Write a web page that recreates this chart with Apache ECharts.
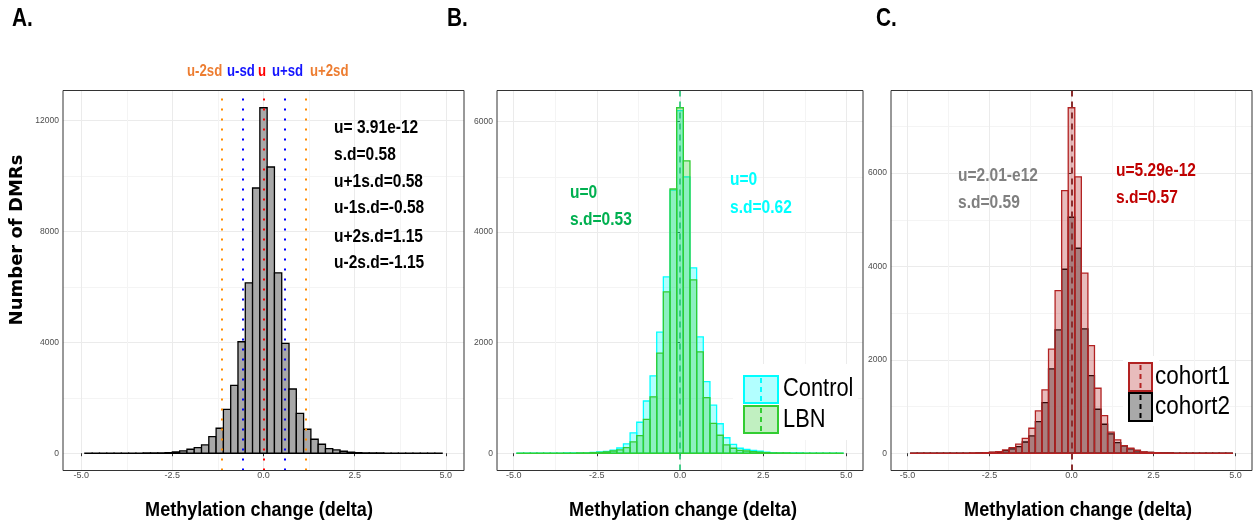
<!DOCTYPE html>
<html>
<head>
<meta charset="utf-8">
<script src="https://cdn.jsdelivr.net/npm/echarts@6/dist/echarts.min.js"></script>
<style>
  html, body { margin: 0; padding: 0; background: #fff; }
  #chart { width: 1253px; height: 529px; }
</style>
</head>
<body>
<div id="chart"></div>
<script>
// histogram bins, width 0.2, centred on these values
var binMid = [-4.8, -4.6, -4.4, -4.2, -4.0, -3.8, -3.6, -3.4, -3.2, -3.0, -2.8, -2.6,
              -2.4, -2.2, -2.0, -1.8, -1.6, -1.4, -1.2, -1.0, -0.8, -0.6, -0.4, -0.2,
              0,
              0.2, 0.4, 0.6, 0.8, 1.0, 1.2, 1.4, 1.6, 1.8, 2.0, 2.2, 2.4,
              2.6, 2.8, 3.0, 3.2, 3.4, 3.6, 3.8, 4.0, 4.2, 4.4, 4.6, 4.8];
var binWidth = 0.2;

// A. all DMRs
var countsA = [2, 2, 3, 3, 4, 5, 6, 7, 9, 11, 15, 24, 48, 84, 144, 204, 300, 600, 900, 1584, 2450, 4020, 6144, 9564,
               12456,
               10320, 6504, 3960, 2316, 1440, 864, 504, 324, 168, 120, 72, 36, 18, 13, 10, 8, 7, 6, 5, 4, 3, 3, 2, 2];
// B. Control vs LBN
var control = [1, 1, 2, 2, 2, 3, 3, 4, 5, 6, 8, 14, 22, 34, 55, 95, 170, 370, 560, 945, 1400, 2190, 3190, 4760,
               6200,
               5000, 3355, 2105, 1295, 870, 533, 280, 160, 90, 70, 50, 36, 20, 12, 8, 6, 5, 4, 3, 2, 2, 2, 1, 1];
var lbn = [1, 1, 1, 1, 2, 2, 2, 3, 3, 4, 6, 10, 16, 26, 40, 60, 100, 205, 320, 612, 1020, 1810, 2920, 4780,
           6250,
           5290, 3135, 1835, 1005, 540, 325, 150, 90, 50, 40, 28, 18, 10, 7, 5, 4, 3, 3, 2, 2, 1, 1, 1, 1];
// C. cohort1 vs cohort2
var cohort1 = [1, 1, 1, 2, 2, 2, 3, 3, 4, 5, 8, 15, 24, 35, 70, 121, 193, 320, 535, 907, 1357, 2228, 3484, 5626,
               7400,
               5920, 3856, 2306, 1392, 807, 450, 286, 164, 107, 64, 30, 20, 12, 8, 5, 4, 3, 3, 2, 2, 1, 1, 1, 1];
var cohort2 = [1, 1, 1, 1, 2, 2, 2, 3, 3, 4, 6, 12, 20, 30, 57, 93, 143, 240, 371, 678, 1085, 1806, 2642, 3941,
               5055,
               4391, 2663, 1664, 942, 621, 414, 228, 157, 93, 50, 25, 16, 10, 7, 5, 4, 3, 2, 2, 1, 1, 1, 1, 1];

// mean / sd reference lines in A
var sdLinesA = [-1.15, -0.58, 0, 0.58, 1.15];
var sdColorsA = ['#ff8c00', '#0000ff', '#ff0000', '#0000ff', '#ff8c00'];

// tick labels
var xTicks = [-5, -2.5, 0, 2.5, 5];
var yTicksA = [0, 4000, 8000, 12000];
var yTicksBC = [0, 2000, 4000, 6000];

var sans = "'Liberation Sans', Arial, sans-serif";

var chart = echarts.init(document.getElementById('chart'), null, {renderer: 'canvas'});

function maxOf(arr) { return Math.max.apply(null, arr); }

function gridBox(left, width) {
    return {left: left, top: 90.5, width: width, height: 380, show: true,
            borderColor: '#333', borderWidth: 1, backgroundColor: 'transparent', z: 6};
}

function xAxisFor(i) {
    return {
        type: 'value', gridIndex: i, min: -5.5, max: 5.5,
        minInterval: 2.5, maxInterval: 2.5,
        axisLine: {show: false},
        axisTick: {show: true, length: 3, customValues: xTicks, lineStyle: {color: '#333'}},
        axisLabel: {customValues: xTicks, fontSize: 9, fontFamily: sans, margin: 1, color: '#4d4d4d',
                    formatter: function (v) { return v.toFixed(1); }},
        splitLine: {show: true, lineStyle: {color: '#ebebeb', width: 1}},
        minorTick: {show: false, splitNumber: 2},
        minorSplitLine: {show: true, lineStyle: {color: '#f4f4f4', width: 1}}
    };
}

function yAxisFor(i, peak, step, ticks) {
    return {
        type: 'value', gridIndex: i, min: -0.05 * peak, max: 1.05 * peak,
        minInterval: step, maxInterval: step,
        axisLine: {show: false},
        axisTick: {show: true, length: 3, customValues: ticks, lineStyle: {color: '#333'}},
        axisLabel: {customValues: ticks, fontSize: 8.5, fontFamily: sans, margin: 4, color: '#4d4d4d',
                    formatter: function (v) { return String(v); }},
        splitLine: {show: true, lineStyle: {color: '#ebebeb', width: 1}},
        minorTick: {show: false, splitNumber: 2},
        minorSplitLine: {show: true, lineStyle: {color: '#f4f4f4', width: 1}}
    };
}

function histSeries(i, vals, fill, stroke, lw, z) {
    return {
        type: 'custom', xAxisIndex: i, yAxisIndex: i, z: z, silent: true, clip: true,
        encode: {x: 0, y: 1},
        data: binMid.map(function (m, k) { return [m, vals[k]]; }),
        renderItem: function (params, api) {
            var m = api.value(0), c = api.value(1);
            var a = api.coord([m - binWidth / 2, c]);
            var b = api.coord([m + binWidth / 2, 0]);
            return {
                type: 'rect',
                shape: {x: a[0], y: a[1], width: b[0] - a[0], height: b[1] - a[1]},
                style: {fill: fill, stroke: stroke, lineWidth: lw}
            };
        }
    };
}

function vLines(i, vals, colors, dash, width, z) {
    return {
        type: 'line', xAxisIndex: i, yAxisIndex: i, data: [], z: z, silent: true,
        markLine: {
            silent: true, symbol: ['none', 'none'], label: {show: false},
            data: vals.map(function (v, k) {
                return {xAxis: v, lineStyle: {color: colors[k], type: dash, width: width, cap: 'butt'}};
            })
        }
    };
}

// text squeezed horizontally to mimic the condensed font of the original figure
function txt(x, y, s, color, size, sx, weight, align) {
    return {
        type: 'text', x: x, y: y, scaleX: sx, z: 20, silent: true,
        style: {text: s, fill: color, font: (weight || 'bold') + ' ' + size + 'px ' + sans,
                align: align || 'left', verticalAlign: 'middle'}
    };
}

function legendKey(x, y, w, h, fill, stroke) {
    return [
        {type: 'rect', z: 21, silent: true, shape: {x: x, y: y, width: w, height: h},
         style: {fill: fill, stroke: stroke, lineWidth: 2}},
        {type: 'line', z: 22, silent: true, shape: {x1: x + w / 2, y1: y + 2, x2: x + w / 2, y2: y + h - 2},
         style: {stroke: stroke, lineWidth: 2, lineDash: [5, 4]}}
    ];
}

var graphics = [
    txt(12, 19, 'A.', '#000', 26, 0.8),
    txt(447, 19, 'B.', '#000', 26, 0.8),
    txt(876, 19, 'C.', '#000', 26, 0.8),

    txt(187, 71, 'u-2sd', '#ed7d31', 16.5, 0.8),
    txt(227, 71, 'u-sd', '#1414ff', 16.5, 0.8),
    txt(258, 71, 'u', '#ff0000', 16.5, 0.8),
    txt(272, 71, 'u+sd', '#1414ff', 16.5, 0.8),
    txt(310, 71, 'u+2sd', '#ed7d31', 16.5, 0.8),

    txt(334, 128, 'u= 3.91e-12', '#000', 18.5, 0.84),
    txt(334, 155, 's.d=0.58', '#000', 18.5, 0.84),
    txt(334, 182, 'u+1s.d=0.58', '#000', 18.5, 0.84),
    txt(334, 208, 'u-1s.d=-0.58', '#000', 18.5, 0.84),
    txt(334, 237, 'u+2s.d=1.15', '#000', 18.5, 0.84),
    txt(334, 263, 'u-2s.d=-1.15', '#000', 18.5, 0.84),

    txt(570, 193, 'u=0', '#00b050', 18.5, 0.84),
    txt(570, 220, 's.d=0.53', '#00b050', 18.5, 0.84),
    txt(730, 180, 'u=0', '#00ffff', 18.5, 0.84),
    txt(730, 208, 's.d=0.62', '#00ffff', 18.5, 0.84),

    txt(958, 176, 'u=2.01-e12', '#808080', 18.5, 0.84),
    txt(958, 203, 's.d=0.59', '#808080', 18.5, 0.84),
    txt(1116, 171, 'u=5.29e-12', '#c00000', 18.5, 0.84),
    txt(1116, 198, 's.d=0.57', '#c00000', 18.5, 0.84),

    txt(259, 510, 'Methylation change (delta)', '#000', 21, 0.86, 'bold', 'center'),
    txt(683, 510, 'Methylation change (delta)', '#000', 21, 0.86, 'bold', 'center'),
    txt(1078, 510, 'Methylation change (delta)', '#000', 21, 0.86, 'bold', 'center'),
    {type: 'text', x: 17, y: 240, rotation: Math.PI / 2, z: 20, silent: true,
     style: {text: 'Number of DMRs', fill: '#000', font: "bold 18px 'DejaVu Sans', sans-serif",
             align: 'center', verticalAlign: 'middle'}},

    // legend B
    {type: 'rect', z: 20, silent: true, shape: {x: 733, y: 364, width: 125, height: 76}, style: {fill: '#fff'}},
    txt(783, 389, 'Control', '#000', 26, 0.84, 'normal'),
    txt(783, 420, 'LBN', '#000', 26, 0.84, 'normal'),
    // legend C
    {type: 'rect', z: 20, silent: true, shape: {x: 1123, y: 356, width: 36, height: 70}, style: {fill: '#fff'}},
    txt(1155, 377, 'cohort1', '#000', 26, 0.865, 'normal'),
    txt(1155, 407, 'cohort2', '#000', 26, 0.865, 'normal')
].concat(
    legendKey(744, 376, 34, 27, 'rgba(0,255,255,0.3)', '#00ffff'),
    legendKey(744, 406, 34, 27, 'rgba(50,205,50,0.3)', '#32cd32'),
    legendKey(1129, 363, 23, 28, 'rgba(178,34,34,0.3)', '#b22222'),
    legendKey(1129, 393, 23, 28, '#a9a9a9', '#000000')
);

var option = {
    animation: false,
    textStyle: {fontFamily: sans},
    grid: [gridBox(63, 401), gridBox(497, 366), gridBox(891, 361)],
    xAxis: [xAxisFor(0), xAxisFor(1), xAxisFor(2)],
    yAxis: [
        yAxisFor(0, maxOf(countsA), 4000, yTicksA),
        yAxisFor(1, Math.max(maxOf(control), maxOf(lbn)), 2000, yTicksBC),
        yAxisFor(2, Math.max(maxOf(cohort1), maxOf(cohort2)), 2000, yTicksBC)
    ],
    series: [
        histSeries(0, countsA, '#a8a8a8', '#000000', 1.3, 2),
        vLines(0, sdLinesA, sdColorsA, [2, 8], 2, 3),

        histSeries(1, control, 'rgba(0,255,255,0.3)', '#00ffff', 1.3, 2),
        histSeries(1, lbn, 'rgba(50,205,50,0.3)', '#32cd32', 1.3, 3),
        vLines(1, [0], ['rgba(40,200,120,0.85)'], [6, 5], 2, 4),

        histSeries(2, cohort2, 'rgba(150,150,150,0.85)', '#000000', 1.3, 2),
        histSeries(2, cohort1, 'rgba(178,34,34,0.3)', '#b22222', 1.3, 3),
        vLines(2, [0], ['#8b2e2e'], [6, 5], 2, 4)
    ],
    graphic: graphics
};

chart.setOption(option);
</script>
</body>
</html>
